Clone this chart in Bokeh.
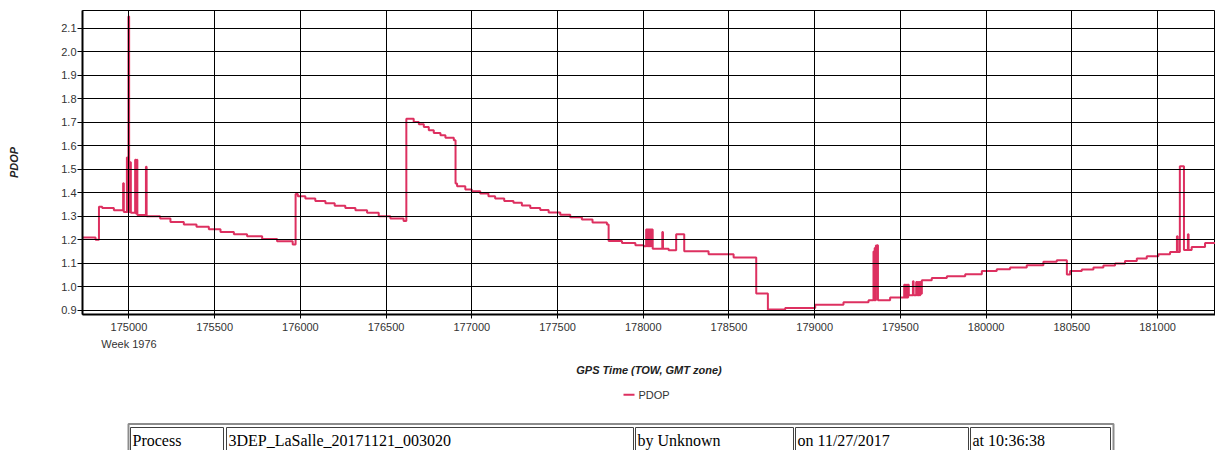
from bokeh.plotting import figure
from bokeh.models import Range1d, FixedTicker, PrintfTickFormatter
from bokeh.layouts import column
from bokeh.embed import file_html
from bokeh.resources import INLINE
from bokeh.core.properties import value

# ---------------- data ----------------
gps_time = [
    174729, 174805, 174825, 174844, 174912, 174966, 174970, 174988, 174992, 174997,
    175001, 175007, 175011, 175036, 175040, 175046, 175049, 175099, 175103, 175182,
    175242, 175320, 175394, 175466, 175534, 175612, 175689, 175777, 175864, 175955,
    175972, 175985, 176029, 176087, 176146, 176200, 176262, 176321, 176389, 176457,
    176525, 176602, 176618, 176661, 176691, 176720, 176749, 176778, 176817, 176846,
    176895, 176905, 176914, 176962, 177000, 177049, 177097, 177136, 177189, 177243,
    177292, 177341, 177399, 177448, 177516, 177574, 177642, 177704, 177788, 177798,
    177876, 177954, 178003, 178017, 178021, 178024, 178028, 178031, 178035, 178038,
    178042, 178045, 178049, 178052, 178055, 178111, 178115, 178148, 178192, 178239,
    178381, 178527, 178659, 178727, 178828, 179003, 179168, 179314, 179343, 179347,
    179350, 179354, 179357, 179361, 179364, 179369, 179440, 179522, 179526, 179530,
    179534, 179538, 179542, 179545, 179549, 179573, 179577, 179592, 179596, 179600,
    179604, 179608, 179612, 179616, 179620, 179625, 179683, 179771, 179878, 179975,
    180062, 180140, 180237, 180334, 180412, 180471, 180490, 180558, 180626, 180684,
    180752, 180810, 180879, 180937, 181005, 181073, 181113, 181117, 181130, 181154,
    181177, 181181, 181199, 181277, 181338,
]
pdop = [
    1.21, 1.20, 1.34, 1.335, 1.325, 1.44, 1.318, 1.55, 1.318, 2.15,
    1.318, 1.53, 1.315, 1.54, 1.312, 1.54, 1.305, 1.51, 1.30, 1.29,
    1.275, 1.265, 1.255, 1.245, 1.233, 1.223, 1.215, 1.203, 1.194, 1.18,
    1.395, 1.385, 1.375, 1.365, 1.355, 1.345, 1.335, 1.325, 1.315, 1.30,
    1.29, 1.28, 1.715, 1.701, 1.691, 1.68, 1.666, 1.654, 1.644, 1.634,
    1.623, 1.439, 1.428, 1.414, 1.406, 1.397, 1.385, 1.375, 1.365, 1.357,
    1.346, 1.335, 1.326, 1.316, 1.306, 1.296, 1.286, 1.273, 1.265, 1.195,
    1.186, 1.177, 1.172, 1.243, 1.172, 1.243, 1.172, 1.243, 1.172, 1.243,
    1.172, 1.243, 1.172, 1.243, 1.162, 1.233, 1.162, 1.155, 1.223, 1.151,
    1.138, 1.124, 0.971, 0.903, 0.91, 0.924, 0.934, 0.943, 1.15, 0.943,
    1.165, 0.943, 1.175, 1.0, 1.177, 0.943, 0.954, 1.009, 0.954, 1.009,
    0.954, 1.009, 0.954, 1.009, 0.964, 1.023, 0.964, 1.02, 0.964, 1.02,
    0.964, 1.02, 0.964, 1.02, 0.97, 1.028, 1.037, 1.045, 1.053, 1.067,
    1.074, 1.082, 1.091, 1.106, 1.113, 1.052, 1.067, 1.073, 1.082, 1.09,
    1.099, 1.11, 1.12, 1.13, 1.138, 1.148, 1.215, 1.148, 1.513, 1.156,
    1.223, 1.156, 1.169, 1.186, 1.186,
]
x_ticks = [175000, 175500, 176000, 176500, 177000, 177500, 178000,
           178500, 179000, 179500, 180000, 180500, 181000]
y_ticks = [0.9, 1.0, 1.1, 1.2, 1.3, 1.4, 1.5, 1.6, 1.7, 1.8, 1.9, 2.0, 2.1]
series_name = "PDOP"
week_label = "Week 1976"
x_title = "GPS Time (TOW, GMT zone)"
y_title = "PDOP"
table_cells = ["Process", "3DEP_LaSalle_20171121_003020", "by Unknown",
               "on 11/27/2017", "at 10:36:38"]

LINE_COLOR = "#DD3060"
SANS = "Liberation Sans"

# ---------------- chart ----------------
X0, X1 = 174729, 181338
Y0, Y1 = 0.882, 2.175
FRAME_L, FRAME_R = 82, 1215

p = figure(width=1215, height=337, output_backend="svg", toolbar_location=None,
           x_range=Range1d(X0, X1), y_range=Range1d(Y0, Y1),
           min_border_left=FRAME_L, min_border_right=0, min_border_top=10,
           min_border_bottom=23)
p.background_fill_color = "white"
p.border_fill_color = "white"
p.outline_line_color = "black"
p.outline_line_width = 1

p.step(gps_time, pdop, mode="after", line_color=LINE_COLOR, line_width=2)

p.xaxis.ticker = FixedTicker(ticks=x_ticks)
p.yaxis.ticker = FixedTicker(ticks=y_ticks)
p.xaxis.formatter = PrintfTickFormatter(format="%d")
p.yaxis.formatter = PrintfTickFormatter(format="%.1f")
for ax in (p.xaxis[0], p.yaxis[0]):
    ax.axis_line_color = "black"
    ax.axis_line_width = 2
    ax.major_tick_line_color = "black"
    ax.major_tick_in = 0
    ax.minor_tick_line_color = None
    ax.major_label_text_font = SANS
    ax.major_label_text_font_size = "11px"
    ax.major_label_text_color = "#333333"

p.xaxis.major_tick_out = 4
p.xaxis.major_label_standoff = 4

p.yaxis.major_tick_out = 5
p.yaxis.major_label_standoff = 1
p.yaxis.axis_label = y_title
p.yaxis.axis_label_standoff = 38
p.yaxis.axis_label_text_font = SANS
p.yaxis.axis_label_text_font_size = "11px"
p.yaxis.axis_label_text_font_style = "bold italic"
p.yaxis.axis_label_text_color = "#222222"

p.xgrid.ticker = FixedTicker(ticks=x_ticks)
p.ygrid.ticker = FixedTicker(ticks=y_ticks)
for g in (p.xgrid[0], p.ygrid[0]):
    g.grid_line_color = "black"
    g.grid_line_width = 1
    g.level = "overlay"

# ---------------- week label, x title, legend, table (pixel space) ----------------
TOP = 337
t = figure(width=1215, height=450 - TOP, output_backend="svg", toolbar_location=None,
           x_range=Range1d(FRAME_L, FRAME_R), y_range=Range1d(450, TOP),
           x_axis_type=None, y_axis_type=None, min_border=0)
t.outline_line_color = None
t.grid.visible = False
t.background_fill_color = "white"
t.border_fill_color = "white"

week_px = FRAME_L + (x_ticks[0] - X0) * (FRAME_R - FRAME_L) / (X1 - X0)
t.text([week_px], [343.5], text=[week_label], text_align="center",
       text_baseline="middle", text_font=value(SANS), text_font_size="11px",
       text_color="#333333")
t.text([(FRAME_L + FRAME_R) / 2], [369], text=[x_title], text_align="center",
       text_baseline="middle", text_font=value(SANS), text_font_size="11px",
       text_font_style="bold italic", text_color="#222222")

t.line([623, 634], [394.3, 394.3], line_color=LINE_COLOR, line_width=2)
t.text([638], [394.5], text=[series_name], text_baseline="middle",
       text_font=value(SANS), text_font_size="11px", text_color="#333333")

cell_left = [130, 226, 635, 795, 970]
cell_right = [223, 633, 793, 968, 1110]
t.quad(left=[128], right=[1113], top=[423.5], bottom=[480],
       fill_color=None, line_color="#8c8c8c", line_width=2)
t.quad(left=cell_left, right=cell_right, top=[427] * 5, bottom=[480] * 5,
       fill_color=None, line_color="#404040", line_width=1)
t.text([l + 2 for l in cell_left], [440] * 5, text=table_cells,
       text_baseline="middle", text_font=value("Liberation Serif"),
       text_font_size="16px", text_color="black")

layout = column(p, t, spacing=0)
open("out.html", "w").write(file_html(layout, INLINE))
